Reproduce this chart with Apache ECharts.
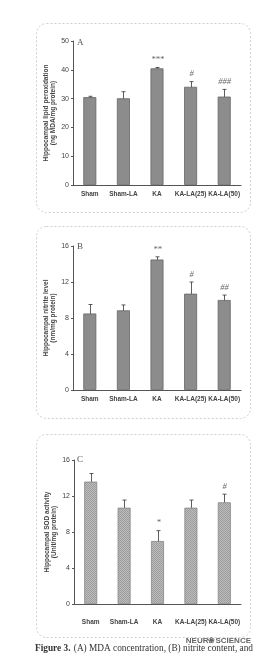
<!DOCTYPE html>
<html><head><meta charset="utf-8">
<script src="https://cdn.jsdelivr.net/npm/echarts@6/dist/echarts.min.js"></script>
<style>html,body{margin:0;padding:0;background:#fff}#c{width:256px;height:656px}</style>
</head><body><div id="c"></div>
<script>
var categories = ['Sham', 'Sham-LA', 'KA', 'KA-LA(25)', 'KA-LA(50)'];
var mdaValues = [30.5, 30.1, 40.5, 34.1, 30.7];
var mdaErrors = [0.3, 2.3, 0.3, 1.8, 2.5];
var mdaMarks = ['', '', '***', '#', '###'];
var nitriteValues = [8.5, 8.85, 14.5, 10.7, 10.0];
var nitriteErrors = [1.0, 0.6, 0.3, 1.3, 0.55];
var nitriteMarks = ['', '', '**', '#', '##'];
var sodValues = [13.6, 10.7, 7.0, 10.7, 11.3];
var sodErrors = [0.9, 0.85, 1.15, 0.85, 0.9];
var sodMarks = ['', '', '*', '', '#'];
var yMaxA = 50, yIntA = 10;
var yMaxB = 16, yIntB = 4;
var yMaxC = 16, yIntC = 4;

var chart = echarts.init(document.getElementById('c'), null, {renderer: 'canvas'});

var pc = document.createElement('canvas');
pc.width = 2; pc.height = 2;
var pctx = pc.getContext('2d');
pctx.fillStyle = '#bdbdbd'; pctx.fillRect(0, 0, 2, 2);
pctx.fillStyle = '#9c9c9c'; pctx.fillRect(0, 0, 1, 1); pctx.fillRect(1, 1, 1, 1);

var grids = [
  {left: 73, right: 15, top: 41, bottom: 471},
  {left: 73, right: 15, top: 246, bottom: 266},
  {left: 74, right: 15, top: 460, bottom: 52}
];
var yNames = [
  'Hippocampal lipid peroxidation\n(ng MDA/mg protein)',
  'Hippocampal nitrite level\n(nm/mg protein)',
  'Hippocampal SOD activity\n(Unit/mg protein)'
];
var maxes = [yMaxA, yMaxB, yMaxC], ints = [yIntA, yIntB, yIntC];
var vals = [mdaValues, nitriteValues, sodValues];
var errs = [mdaErrors, nitriteErrors, sodErrors];
var marks = [mdaMarks, nitriteMarks, sodMarks];
var panelLetters = ['A', 'B', 'C'];

var xAxes = [], yAxes = [], series = [];
for (var i = 0; i < 3; i++) {
  xAxes.push({
    type: 'category', gridIndex: i, data: categories,
    axisLine: {lineStyle: {color: '#555', width: 1}},
    axisTick: {show: false},
    axisLabel: {color: '#444', fontSize: 6.5, fontWeight: 'bold', fontFamily: 'Liberation Sans, Arial', margin: i === 2 ? 15 : 6, interval: 0, hideOverlap: false}
  });
  yAxes.push({
    type: 'value', gridIndex: i, min: 0, max: maxes[i], interval: ints[i],
    name: yNames[i], nameLocation: 'middle', nameGap: 16, nameMoveOverlap: false,
    nameTextStyle: {color: '#444', fontSize: 6.5, fontWeight: 'bold', fontFamily: 'Liberation Sans, Arial', lineHeight: 7.5},
    axisLine: {show: true, lineStyle: {color: '#555', width: 1}},
    axisTick: {show: true, length: 2, inside: false, lineStyle: {color: '#555'}},
    axisLabel: {color: '#444', fontSize: 7, fontFamily: 'Liberation Sans, Arial', margin: 4},
    splitLine: {show: false}
  });
  series.push({
    type: 'bar', xAxisIndex: i, yAxisIndex: i, data: vals[i], barWidth: 13,
    itemStyle: {
      color: i === 2 ? {image: pc, repeat: 'repeat'} : '#8c8c8c',
      borderColor: i === 2 ? '#888' : '#666', borderWidth: 0.8
    },
    silent: true, animation: false
  });
  (function (idx) {
    var data = vals[idx].map(function (v, k) { return [k, v, errs[idx][k], marks[idx][k]]; });
    series.push({
      type: 'custom', xAxisIndex: idx, yAxisIndex: idx, data: data, silent: true, animation: false,
      renderItem: function (params, api) {
        var k = api.value(0), v = api.value(1), e = api.value(2);
        var m = data[params.dataIndex][3];
        var top = api.coord([k, v + e]);
        var bot = api.coord([k, v - e]);
        var x = Math.round(top[0]) + 0.5;
        var children = [
          {type: 'line', shape: {x1: x, y1: top[1], x2: x, y2: bot[1]}, style: {stroke: '#333', lineWidth: 0.8}},
          {type: 'line', shape: {x1: x - 2, y1: top[1], x2: x + 2, y2: top[1]}, style: {stroke: '#333', lineWidth: 0.8}},
          {type: 'line', shape: {x1: x - 2, y1: bot[1], x2: x + 2, y2: bot[1]}, style: {stroke: '#333', lineWidth: 0.8}}
        ];
        if (m) {
          children.push({type: 'text', x: x, y: top[1] - 3, style: {text: m, fill: '#666', font: 'italic 8.5px Liberation Serif', align: 'center', verticalAlign: 'bottom'}});
        }
        return {type: 'group', children: children};
      }
    });
  })(i);
}

var boxes = [[36, 23, 214, 189], [36, 226, 214, 192], [36, 434, 214, 203]];
var graphic = [];
boxes.forEach(function (b) {
  graphic.push({type: 'rect', shape: {x: b[0] + 0.5, y: b[1] + 0.5, width: b[2], height: b[3], r: 10},
    style: {fill: 'none', stroke: '#cfcfcf', lineWidth: 1, lineDash: [2, 2]}, z: -1});
});
var letterY = [43, 247, 460];
for (var j = 0; j < 3; j++) {
  graphic.push({type: 'text', x: 77, y: letterY[j], style: {text: panelLetters[j], fill: '#555', font: '9px Liberation Serif', verticalAlign: 'middle'}});
}
graphic.push({type: 'text', x: 251, y: 641, style: {text: 'NEUR\u2740SCIENCE', fill: '#666', font: 'bold 8px Liberation Sans', align: 'right', verticalAlign: 'middle'}});
graphic.push({type: 'text', x: 35, y: 649, style: {rich: {b: {font: 'bold 9.3px Liberation Serif', fill: '#333'}, n: {font: '9.3px Liberation Serif', fill: '#333'}}, text: '{b|Figure 3.} {n|(A) MDA concentration, (B) nitrite content, and}', verticalAlign: 'middle'}});

chart.setOption({
  animation: false,
  backgroundColor: '#fff',
  grid: grids,
  xAxis: xAxes,
  yAxis: yAxes,
  series: series,
  graphic: graphic
});
</script></body></html>
